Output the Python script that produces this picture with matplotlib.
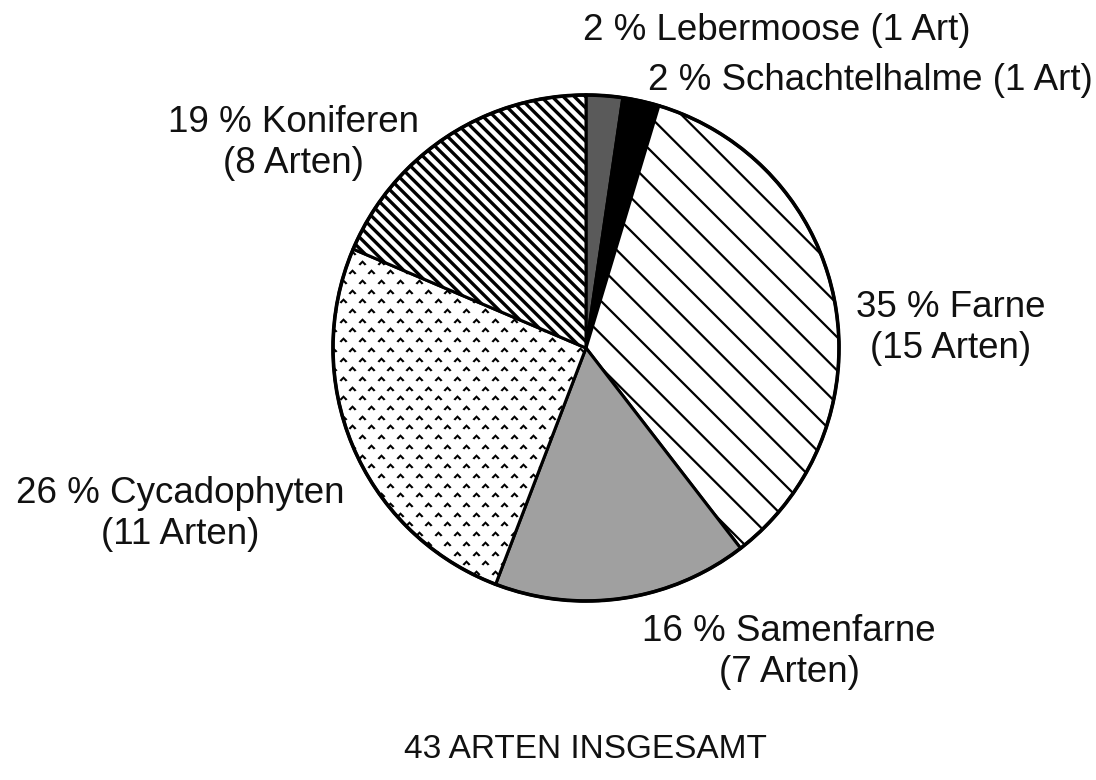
import numpy as np
import matplotlib
matplotlib.use('Agg')
import matplotlib.pyplot as plt
from matplotlib.path import Path

plt.rcParams['font.family'] = ['Liberation Sans', 'DejaVu Sans']

# species per group, clockwise from 12 o'clock
groups = ['Lebermoose', 'Schachtelhalme', 'Farne', 'Samenfarne', 'Cycadophyten', 'Koniferen']
counts = [1, 1, 15, 7, 11, 8]
total = sum(counts)

faces = ['#5a5a5a', 'black', 'white', '#a0a0a0', 'white', 'white']
hatches = [None, None, '\\', None, None, '\\\\\\']
hatch_lw = [1, 1, 1.6, 1, 1, 2.4]

# label anchor positions in pixels (y measured from top)
label_pos = [(583, 30), (648, 80), (951, 328), (789, 652), (180, 514), (293, 143)]
label_ha = ['left', 'left', 'center', 'center', 'center', 'center']

W, H = 1096, 780
cx, cy, r = 586, 348, 253

fig = plt.figure(figsize=(W / 100, H / 100), dpi=100)
ax = fig.add_axes([0, 0, 1, 1])

wedges, _ = ax.pie(counts, startangle=90, counterclock=False, center=(cx, H - cy), radius=r,
                   colors=faces, wedgeprops=dict(edgecolor='black', linewidth=2.2))
for w, h, lw in zip(wedges, hatches, hatch_lw):
    if h:
        w.set_hatch(h)
        if hasattr(w, 'set_hatch_linewidth'):
            w.set_hatch_linewidth(lw)
ax.set_xlim(0, W)
ax.set_ylim(0, H)
ax.set_aspect('equal')
ax.axis('off')

# outer rim
circ = plt.Circle((cx, H - cy), r, fill=False, edgecolor='black', linewidth=2.6)
ax.add_patch(circ)

# caret texture for Cycadophyten
caret = Path([(-1, -0.45), (0, 0.55), (1, -0.45), (0.55, -0.75), (0, -0.15), (-0.55, -0.75), (-1, -0.45)],
             closed=True)
gx, gy = [], []
for i, yy in enumerate(np.arange(H - cy - r, H - cy + r, 9.7)):
    off = 0 if i % 2 == 0 else 9.5
    for xx in np.arange(cx - r + off, cx + r, 19):
        gx.append(xx)
        gy.append(yy)
sc = ax.scatter(gx, gy, marker=caret, s=34, color='black', linewidths=0, zorder=3)
sc.set_clip_path(wedges[4])

for g, c, (lx, ly), ha in zip(groups, counts, label_pos, label_ha):
    pct = round(100 * c / total)
    art = 'Art' if c == 1 else 'Arten'
    if c == 1:
        txt = f'{pct} % {g} ({c} {art})'
    else:
        txt = f'{pct} % {g}\n({c} {art})'
    ax.text(lx, H - ly, txt, ha=ha, va='center', fontsize=26.5, linespacing=1.22, color='#111111')

ax.text(585, H - 750, f'{total} ARTEN INSGESAMT', ha='center', va='center', fontsize=24, color='#111111')

fig.savefig('out.png', dpi=100)
